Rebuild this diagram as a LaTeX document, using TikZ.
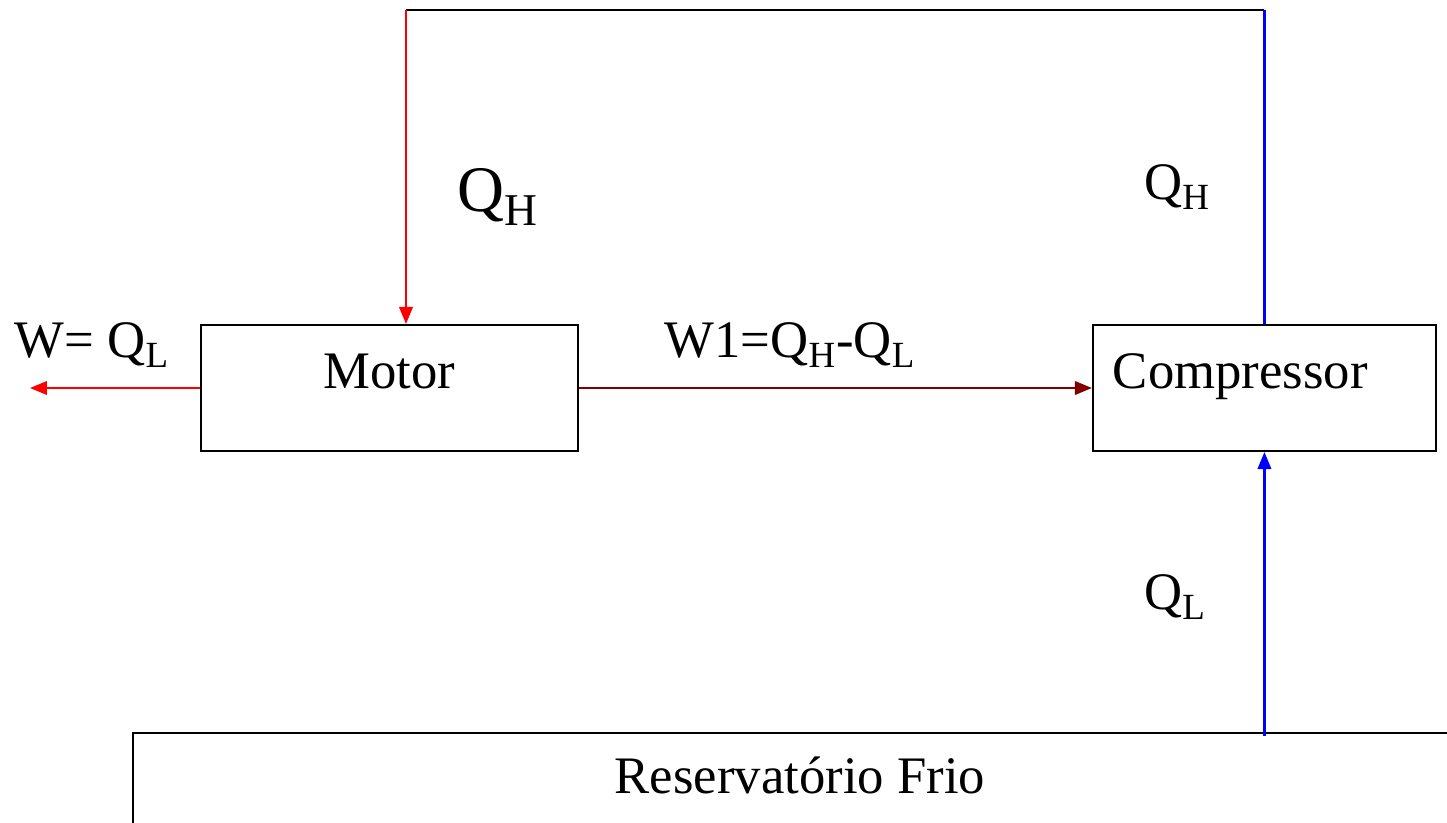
\documentclass[tikz,border=0pt]{standalone}
\usepackage{fontspec}
\setmainfont{Liberation Serif}
\usetikzlibrary{arrows.meta,positioning}
\newcommand{\idx}[1]{\textsubscript{#1}}

\begin{document}
\begin{tikzpicture}[x=0.02cm,y=-0.02cm,line width=1.2pt,
  box/.style={draw,rectangle,minimum height=2.52cm,text height=0.6cm,text depth=0.6cm,font=\fontsize{30}{36}\selectfont},
  lbl/.style={font=\fontsize{30}{36}\selectfont,inner sep=0pt},
  arrow/.style={-{Triangle[length=0.34cm,width=0.27cm]}}]
\useasboundingbox (0,0) rectangle (1447,822);
\clip (0,0) rectangle (1447,822);
\node[box,minimum width=7.54cm] (motor) at (389.5,388) {Motor};
\node[box,minimum width=6.86cm,text width=6.06cm,align=left,inner xsep=0.4cm,right=10.26cm of motor] (comp) {Compressor};
\node[box,minimum width=26.68cm,minimum height=2.4cm] (frio) at (800,793) {Reservatório Frio};
\coordinate (topL) at (406,10);
\coordinate (topR) at (comp.north |- topL);
\coordinate (out) at (30,388);
\draw (topL) -- (topR);
\draw[arrow,red] (topL) -- (topL |- motor.north);
\draw[blue] (topR) -- (comp.north);
\draw[arrow,red] (motor.west) -- (out);
\draw[arrow,red!50!black] (motor.east) -- (comp.west);
\draw[arrow,blue] ([yshift=-0.08cm]comp.south |- frio.north) -- (comp.south);
\node[lbl,font=\fontsize{37}{42}\selectfont] (qh1) at (498,197) {Q\idx{H}};
\node[lbl] (qh2) at (1177,187) {Q\idx{H}};
\node[lbl] (w) at (92,345) {W= Q\idx{L}};
\node[lbl] (w1) at (790,345) {W1=Q\idx{H}-Q\idx{L}};
\node[lbl] (ql) at (1175,597) {Q\idx{L}};
\end{tikzpicture}
\end{document}
